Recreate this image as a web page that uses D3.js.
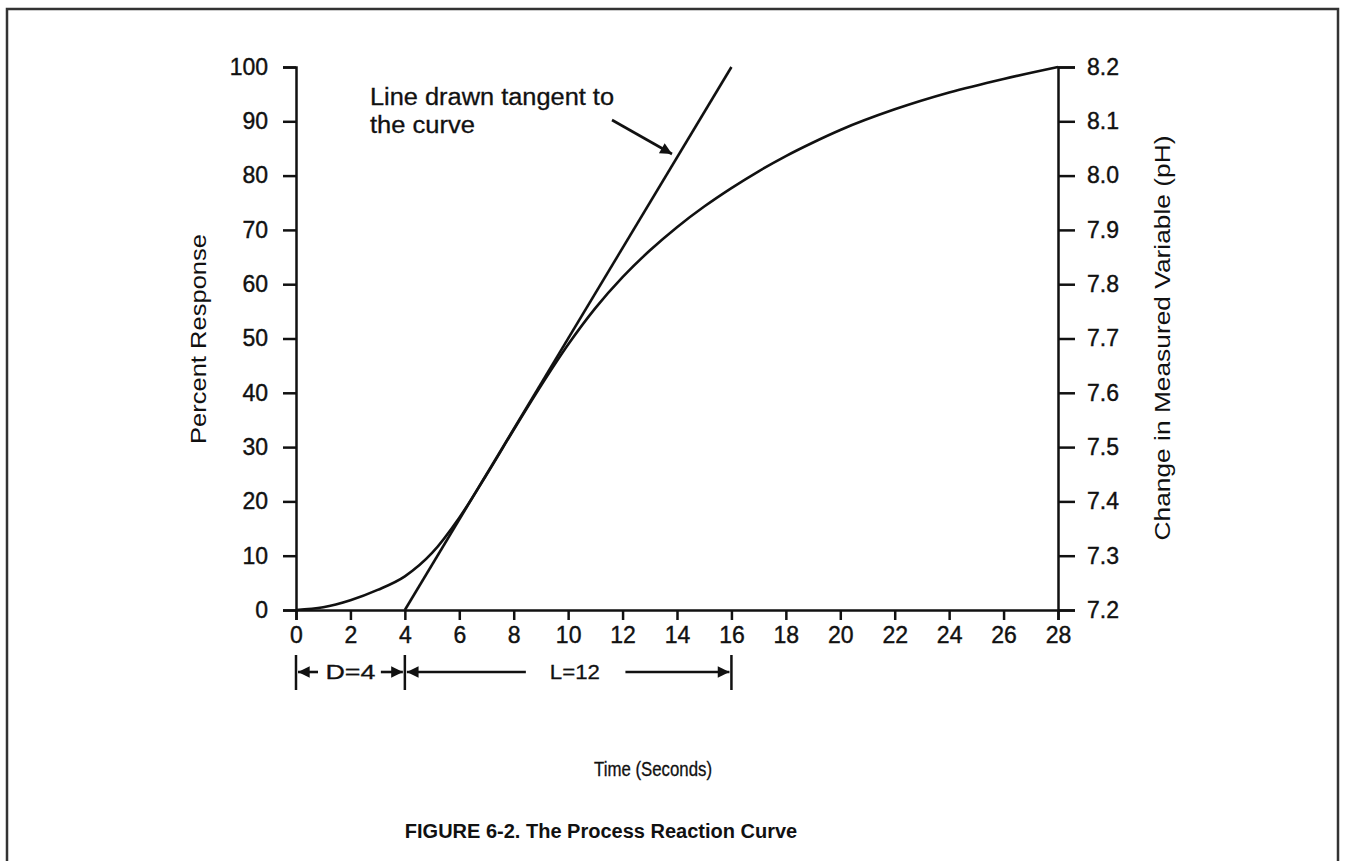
<!DOCTYPE html>
<html>
<head>
<meta charset="utf-8">
<script src="https://cdn.jsdelivr.net/npm/d3@7"></script>
<style>
  body { margin: 0; background: #fff; }
  text { font-family: "Liberation Sans", Arial, sans-serif; fill: #111; }
</style>
</head>
<body>
<div id="chart"></div>
<script>
// data
var times = [0, 1, 2, 3, 4, 5, 6, 7, 8, 9, 10, 11, 12, 13, 14, 15, 16, 17, 18, 19, 20, 22, 24, 26, 28];
var response = [0, 0.5, 1.8, 3.7, 6.2, 10.5, 17, 24.9, 33.2, 41.3, 48.9, 55.6, 61.3, 66.2, 70.5, 74.3, 77.7, 80.8, 83.6, 86.1, 88.4, 92.2, 95.3, 97.8, 100];
var tangentTimes = [4, 16];
var tangentValues = [0, 100];
var timeTicks = [0, 2, 4, 6, 8, 10, 12, 14, 16, 18, 20, 22, 24, 26, 28];
var percentTicks = [0, 10, 20, 30, 40, 50, 60, 70, 80, 90, 100];
var phTicks = [7.2, 7.3, 7.4, 7.5, 7.6, 7.7, 7.8, 7.9, 8.0, 8.1, 8.2];
var deadTime = [0, 4];
var lagTime = [4, 16];

var svgWidth = 1348, svgHeight = 861;
var margin = { top: 67, left: 296 };
var chartWidth = 762, chartHeight = 543;

var svg = d3.select("#chart").append("svg")
  .attr("width", svgWidth)
  .attr("height", svgHeight);

// page frame (bottom edge is cut off in the scan)
svg.append("rect")
  .attr("x", 7).attr("y", 9)
  .attr("width", 1331).attr("height", 900)
  .attr("fill", "none")
  .attr("stroke", "#333")
  .attr("stroke-width", 2.5);

var g = svg.append("g")
  .attr("transform", `translate(${margin.left}, ${margin.top})`);

var x = d3.scaleLinear().domain([0, 28]).range([0, chartWidth]);
var y = d3.scaleLinear().domain([0, 100]).range([chartHeight, 0]);
var yPh = d3.scaleLinear().domain([7.2, 8.2]).range([chartHeight, 0]);

// axes
var leftAxis = d3.axisLeft(y).tickValues(percentTicks).tickSize(13).tickPadding(15);
var rightAxis = d3.axisRight(yPh).tickValues(phTicks).tickSize(17).tickPadding(12).tickFormat(d3.format(".1f"));
var bottomAxis = d3.axisBottom(x).tickValues(timeTicks).tickSize(10).tickPadding(7);

function styleAxis(sel) {
  sel.select(".domain").attr("stroke", "#111").attr("stroke-width", 2.5);
  sel.selectAll(".tick line").attr("stroke", "#111").attr("stroke-width", 2.5);
  sel.selectAll(".tick text").attr("font-size", 23).attr("fill", "#111")
    .attr("stroke", "#111").attr("stroke-width", 0.4)
    .style("font-family", "'Liberation Sans', Arial, sans-serif");
}

g.append("g").call(leftAxis).call(styleAxis);
g.append("g").attr("transform", `translate(${chartWidth}, 0)`).call(rightAxis).call(styleAxis);
g.append("g").attr("transform", `translate(0, ${chartHeight})`).call(bottomAxis).call(styleAxis);

// reaction curve
var line = d3.line()
  .x(function(d, i) { return x(times[i]); })
  .y(function(d) { return y(d); })
  .curve(d3.curveMonotoneX);

g.append("path")
  .datum(response)
  .attr("d", line)
  .attr("fill", "none")
  .attr("stroke", "#111")
  .attr("stroke-width", 2.6);

// tangent line
g.append("path")
  .datum(tangentValues)
  .attr("d", d3.line().x(function(d, i) { return x(tangentTimes[i]); }).y(function(d) { return y(d); }))
  .attr("fill", "none")
  .attr("stroke", "#111")
  .attr("stroke-width", 2.6);

// arrowheads
var defs = svg.append("defs");
defs.append("marker")
  .attr("id", "head")
  .attr("viewBox", "0 0 10 10")
  .attr("refX", 10).attr("refY", 5)
  .attr("markerWidth", 6).attr("markerHeight", 4.5)
  .attr("markerUnits", "strokeWidth")
  .attr("orient", "auto-start-reverse")
  .append("path")
  .attr("d", "M0,0 L10,5 L0,10 z")
  .attr("fill", "#111");

// annotation
var note = g.append("text")
  .attr("x", 74)
  .attr("y", 38)
  .attr("font-size", 23)
  .attr("stroke", "#111").attr("stroke-width", 0.3);
note.append("tspan").attr("x", 74).attr("textLength", 244).attr("lengthAdjust", "spacingAndGlyphs").text("Line drawn tangent to");
note.append("tspan").attr("x", 74).attr("dy", 28).attr("textLength", 105).attr("lengthAdjust", "spacingAndGlyphs").text("the curve");

g.append("line")
  .attr("x1", 316).attr("y1", 53)
  .attr("x2", 376).attr("y2", 87)
  .attr("stroke", "#111")
  .attr("stroke-width", 2.6)
  .attr("marker-end", "url(#head)");

// D and L dimension lines under the time axis
var dimY = chartHeight + 62;
var dims = g.append("g");
[deadTime[0], deadTime[1], lagTime[1]].forEach(function(t) {
  dims.append("line")
    .attr("x1", x(t)).attr("x2", x(t))
    .attr("y1", dimY - 17).attr("y2", dimY + 18)
    .attr("stroke", "#111").attr("stroke-width", 2.5);
});

function dimArrow(x1, x2) {
  dims.append("line")
    .attr("x1", x1).attr("x2", x2)
    .attr("y1", dimY).attr("y2", dimY)
    .attr("stroke", "#111").attr("stroke-width", 2.6)
    .attr("marker-end", "url(#head)");
}
dimArrow(x(deadTime[0]) + 22, x(deadTime[0]) + 2);
dimArrow(x(deadTime[1]) - 24, x(deadTime[1]) - 2);
dimArrow(x(lagTime[0]) + 121, x(lagTime[0]) + 2);
dimArrow(x(lagTime[1]) - 106, x(lagTime[1]) - 2);

dims.append("text")
  .attr("x", x(2)).attr("y", dimY + 7)
  .attr("text-anchor", "middle").attr("font-size", 21)
  .attr("stroke", "#111").attr("stroke-width", 0.3)
  .attr("textLength", 50).attr("lengthAdjust", "spacingAndGlyphs")
  .text("D=4");
dims.append("text")
  .attr("x", x(lagTime[0]) + 170).attr("y", dimY + 7)
  .attr("text-anchor", "middle").attr("font-size", 21)
  .attr("stroke", "#111").attr("stroke-width", 0.3)
  .attr("textLength", 50).attr("lengthAdjust", "spacingAndGlyphs")
  .text("L=12");

// axis titles
g.append("text")
  .attr("x", 357).attr("y", chartHeight + 166)
  .attr("text-anchor", "middle").attr("font-size", 20)
  .attr("stroke", "#111").attr("stroke-width", 0.3)
  .attr("textLength", 118).attr("lengthAdjust", "spacingAndGlyphs")
  .text("Time (Seconds)");

svg.append("text")
  .attr("transform", `translate(206, 339) rotate(-90)`)
  .attr("text-anchor", "middle").attr("font-size", 22)
  .attr("textLength", 210).attr("lengthAdjust", "spacingAndGlyphs")
  .text("Percent Response");

svg.append("text")
  .attr("transform", `translate(1170, 338) rotate(-90)`)
  .attr("text-anchor", "middle").attr("font-size", 22)
  .attr("textLength", 405).attr("lengthAdjust", "spacingAndGlyphs")
  .text("Change in Measured Variable (pH)");

// caption
svg.append("text")
  .attr("x", 601).attr("y", 838)
  .attr("text-anchor", "middle")
  .attr("font-size", 20).attr("font-weight", "bold")
  .attr("fill", "#222")
  .text("FIGURE 6-2. The Process Reaction Curve");
</script>
</body>
</html>
